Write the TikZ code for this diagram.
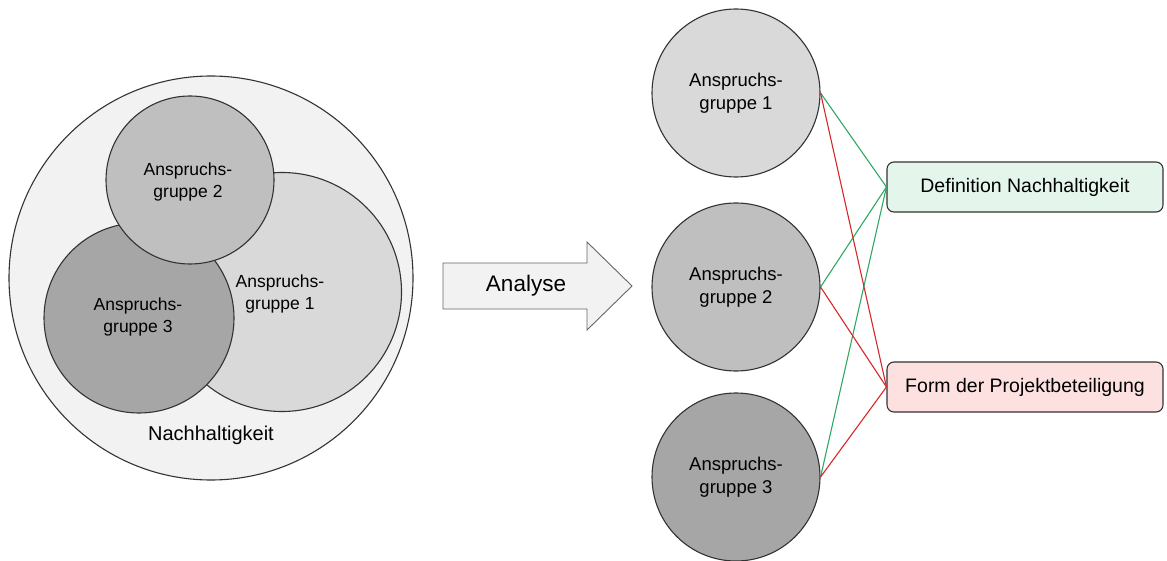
\documentclass[tikz,border=0pt]{standalone}
\usepackage{fontspec}
\setmainfont{Liberation Sans}
\begin{document}
\begin{tikzpicture}[x=1pt,y=-1pt,
  ring/.style={circle,draw=black!80,line width=1.1pt,inner sep=0pt},
  lbl/.style={align=center,inner sep=0pt,font=\fontsize{17.5}{22}\selectfont},
  rlbl/.style={align=center,inner sep=0pt,font=\fontsize{18.5}{23}\selectfont},
  crit/.style={rounded corners=7pt,draw=black!80,line width=1.1pt,minimum width=276pt,minimum height=50pt,inner sep=0pt,font=\fontsize{19.5}{23}\selectfont},
  yes/.style={draw={rgb,255:red,46;green,168;blue,98},line width=1.1pt},
  no/.style={draw={rgb,255:red,214;green,40;blue,40},line width=1.1pt}]
\useasboundingbox (0,0) rectangle (1167,561);

% left: nested stakeholder groups
\node[ring,fill=black!5,minimum size=404pt] (nh) at (211,278) {};
\node[ring,fill=black!15,minimum size=239pt] (g1) at (282,292) {};
\node[ring,fill=black!35,minimum size=190pt] (g3) at (139,318) {};
\node[ring,fill=black!25,minimum size=168pt] (g2) at (190,180) {};
\node[lbl] (t1) at (280,294) {Anspruchs-\\gruppe 1};
\node[lbl] (t2) at (188,182) {Anspruchs-\\gruppe 2};
\node[lbl] (t3) at (138,317) {Anspruchs-\\gruppe 3};
\node[lbl,font=\fontsize{20}{24}\selectfont] (tn) at (211,435) {Nachhaltigkeit};

% analysis arrow
\draw[draw=black!60,fill=black!5,line width=0.9pt]
  (443,263) -- (587,263) -- (587,242) -- (632,286) -- (587,330) -- (587,309) -- (443,309) -- cycle;
\node[inner sep=0pt,font=\fontsize{22.5}{26}\selectfont] (an) at (526,286) {Analyse};

% right: separated groups
\node[ring,fill=black!15,minimum size=168pt,rlbl] (r1) at (736,93) {Anspruchs-\\gruppe 1};
\node[ring,fill=black!25,minimum size=168pt,rlbl] (r2) at (736,287) {Anspruchs-\\gruppe 2};
\node[ring,fill=black!35,minimum size=168pt,rlbl] (r3) at (736,477) {Anspruchs-\\gruppe 3};

% criteria
\node[crit,fill={rgb,255:red,228;green,245;blue,236}] (def) at (1025,187) {Definition Nachhaltigkeit};
\node[crit,fill={rgb,255:red,253;green,224;blue,224}] (form) at (1025,387) {Form der Projektbeteiligung};

% links
\draw[yes] (r1.east) -- (def.west);
\draw[yes] (r2.east) -- (def.west);
\draw[yes] (r3.east) -- (def.west);
\draw[no] (r1.east) -- (form.west);
\draw[no] (r2.east) -- (form.west);
\draw[no] (r3.east) -- (form.west);
\end{tikzpicture}
\end{document}
